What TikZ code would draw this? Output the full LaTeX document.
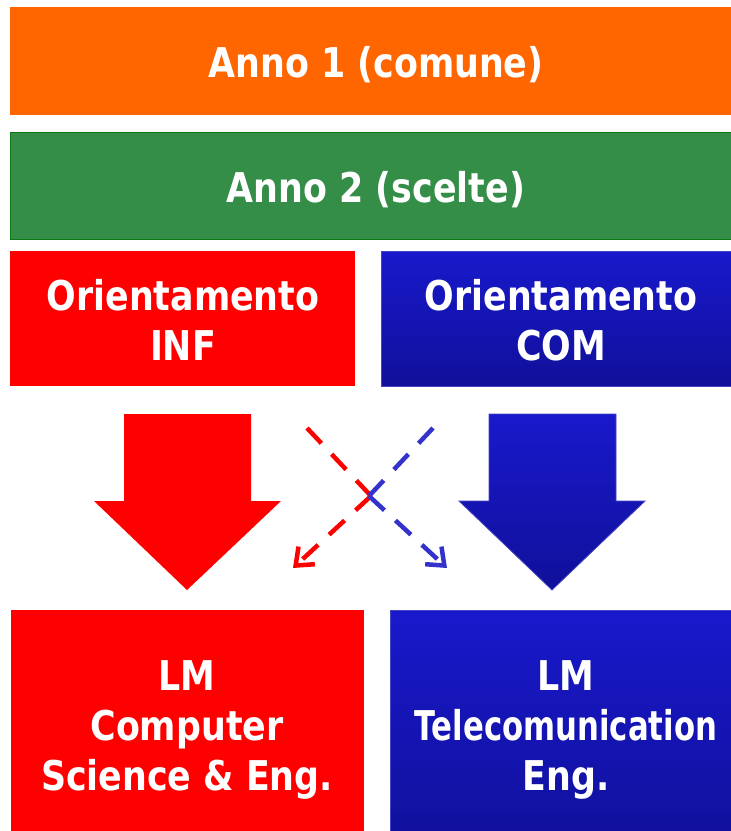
\documentclass[tikz,border=0pt]{standalone}
\usepackage{fontspec}
\usetikzlibrary{arrows.meta}
\newfontfamily\labfont[FakeStretch=0.85]{DejaVu Sans}
\newfontfamily\labnarrow[FakeStretch=0.75]{DejaVu Sans}
\definecolor{orng}{HTML}{FF6600}
\definecolor{grn}{HTML}{358E48}
\definecolor{grnB}{HTML}{0B7A12}
\definecolor{redF}{HTML}{FF0000}
\definecolor{bluT}{HTML}{1919CC}
\definecolor{bluB}{HTML}{10109A}
\definecolor{bluE}{HTML}{4646C4}
\definecolor{dashB}{HTML}{3333CC}
\begin{document}
\begin{tikzpicture}[x=1pt,y=-1pt,
  box/.style={rectangle, inner sep=0pt, outer sep=0pt, anchor=north west},
  redbox/.style={box, fill=redF},
  bluebox/.style={box, top color=bluT, bottom color=bluB, draw=bluE, line width=1pt},
  lbl/.style={text=white, font=\labfont\bfseries\fontsize{41}{50}\selectfont, align=center, inner sep=0pt},
  bigred/.style={fill=redF},
  bigblue/.style={top color=bluT, bottom color=bluB, draw=bluE, line width=0.8pt},
  dashcon/.style={line width=4.5pt, dash pattern=on 21pt off 15pt, -{Straight Barb[length=15pt,width=24pt]}},
]
\useasboundingbox (0,0) rectangle (731,831);

% boxes
\node[box, fill=orng, minimum width=732pt, minimum height=108pt] (y1) at (10,7) {};
\node[box, fill=grn, draw=grnB, line width=1pt, minimum width=732pt, minimum height=107pt] (y2) at (10,132) {};
\node[redbox, minimum width=345pt, minimum height=135pt] (oinf) at (10,251) {};
\node[bluebox, minimum width=361pt, minimum height=135pt] (ocom) at (381,251) {};
\node[redbox, minimum width=353pt, minimum height=240pt] (lmcs) at (11,610) {};
\node[bluebox, minimum width=352pt, minimum height=240pt] (lmtc) at (390,610) {};

% texts
\node[lbl, anchor=base] (t1) at (376,77) {Anno 1 (comune)};
\node[lbl, anchor=base] (t2) at (376,202) {Anno 2 (scelte)};
\node[lbl, anchor=north] (t3) at (183,279) {Orientamento\\INF};
\node[lbl, anchor=north] (t4) at (561,279) {Orientamento\\COM};
\node[lbl, anchor=north] (t5) at (187,660) {LM\\Computer\\Science \& Eng.};
\node[lbl, anchor=north] (t6) at (566,660) {LM\\{\labnarrow\bfseries Telecomunication}\\Eng.};

% big arrows
\path[bigred] (124,414) -- (251,414) -- (251,501) -- (281,501) -- (187,590)
  -- (94,501) -- (124,501) -- cycle;
\path[bigblue] (489,414) -- (616,414) -- (616,501) -- (645,501) -- (552,590)
  -- (459,501) -- (489,501) -- cycle;

% dashed connectors
\coordinate (rs) at (307,428);
\coordinate (rb) at (371,496);
\coordinate (re) at (293,568);
\coordinate (bs) at (433,428);
\coordinate (bb) at (369,496);
\coordinate (be) at (447,568);
\draw[dashcon, redF] (rs) -- (rb) (rb) -- (re);
\draw[dashcon, dashB] (bs) -- (bb) (bb) -- (be);
\end{tikzpicture}
\end{document}
